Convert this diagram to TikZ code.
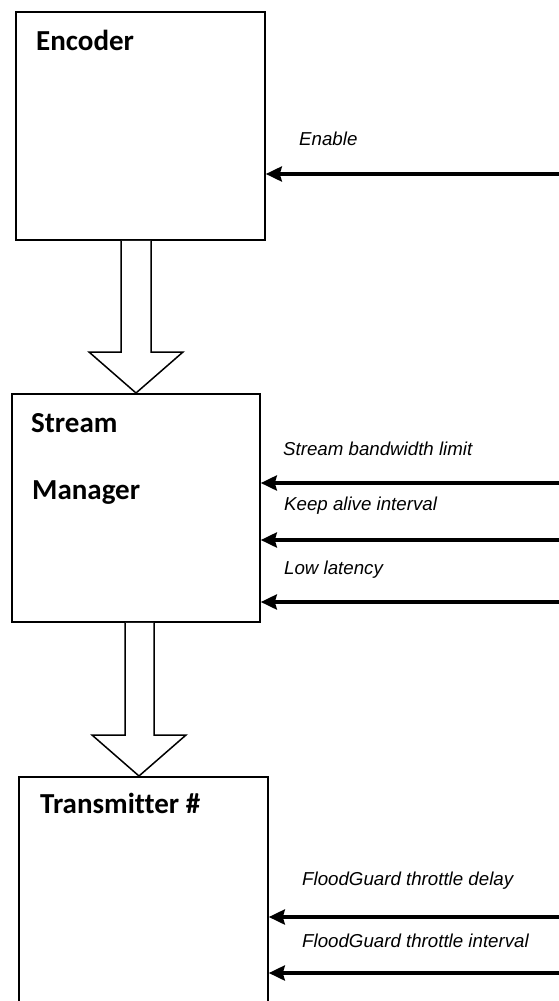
\documentclass[tikz,border=0pt]{standalone}
\usepackage{fontspec}
\setmainfont{Liberation Sans}
\newfontfamily\titlefont[Ligatures=NoCommon]{Carlito}
\usetikzlibrary{arrows.meta,calc}
\begin{document}
\begin{tikzpicture}[x=1pt,y=-1pt,
  block/.style={draw, line width=1.8pt, inner sep=0pt, anchor=north west},
  title/.style={font=\titlefont\bfseries\fontsize{29}{34}\selectfont, anchor=base west, inner sep=0pt},
  lbl/.style={font=\itshape\fontsize{18.7}{22}\selectfont, anchor=base west, inner sep=0pt},
  inarrow/.style={line width=3.4pt, -{Stealth[length=16pt,width=15pt,inset=2pt]}},
  hollow/.style={draw, line width=1.5pt, fill=white, line join=miter}]
\useasboundingbox (0,0) rectangle (559,1001);
\fill[white] (0,0) rectangle (559,1001);
\clip (0,0) rectangle (559,1001);

% boxes
\node[block, minimum width=249pt, minimum height=228pt] (enc) at (15,11) {};
\node[block, minimum width=248pt, minimum height=228pt] (sm) at (11,393) {};
\node[block, minimum width=249pt, minimum height=240pt] (tx) at (18,776) {};

% titles
\node[title] (encT) at (36,50) {Encoder};
\node[title] (smT1) at (31,432) {Stream};
\node[title] (smT2) at (32,499) {Manager};
\node[title] (txT) at (40,813) {Transmitter \#};

% hollow block arrows
\coordinate (a1l) at (121,352);
\coordinate (a1hl) at (89,352);
\coordinate (a1c) at (136,0);
\coordinate (a1hr) at (183,352);
\coordinate (a1r) at (151,352);
\draw[hollow] (enc.south -| a1l) -- (a1l) -- (a1hl) -- (sm.north -| a1c) -- (a1hr) -- (a1r) -- (enc.south -| a1r);

\coordinate (a2l) at (125,735);
\coordinate (a2hl) at (92,735);
\coordinate (a2c) at (139,0);
\coordinate (a2hr) at (186,735);
\coordinate (a2r) at (154,735);
\draw[hollow] (sm.south -| a2l) -- (a2l) -- (a2hl) -- (tx.north -| a2c) -- (a2hr) -- (a2r) -- (sm.south -| a2r);

% inputs
\coordinate (inEn) at (559,174);
\coordinate (inBw) at (559,483);
\coordinate (inKa) at (559,540);
\coordinate (inLl) at (559,602);
\coordinate (inFd) at (559,917);
\coordinate (inFi) at (559,973);

\draw[inarrow] (inEn) -- (inEn -| enc.east);
\draw[inarrow] (inBw) -- (inBw -| sm.east);
\draw[inarrow] (inKa) -- (inKa -| sm.east);
\draw[inarrow] (inLl) -- (inLl -| sm.east);
\draw[inarrow] (inFd) -- (inFd -| tx.east);
\draw[inarrow] (inFi) -- (inFi -| tx.east);

% labels
\node[lbl] (lEn) at (299,145) {Enable};
\node[lbl] (lBw) at (283,455) {Stream bandwidth limit};
\node[lbl] (lKa) at (284,510) {Keep alive interval};
\node[lbl] (lLl) at (284,574) {Low latency};
\node[lbl] (lFd) at (302,885) {FloodGuard throttle delay};
\node[lbl] (lFi) at (302,947) {FloodGuard throttle interval};
\end{tikzpicture}
\end{document}
